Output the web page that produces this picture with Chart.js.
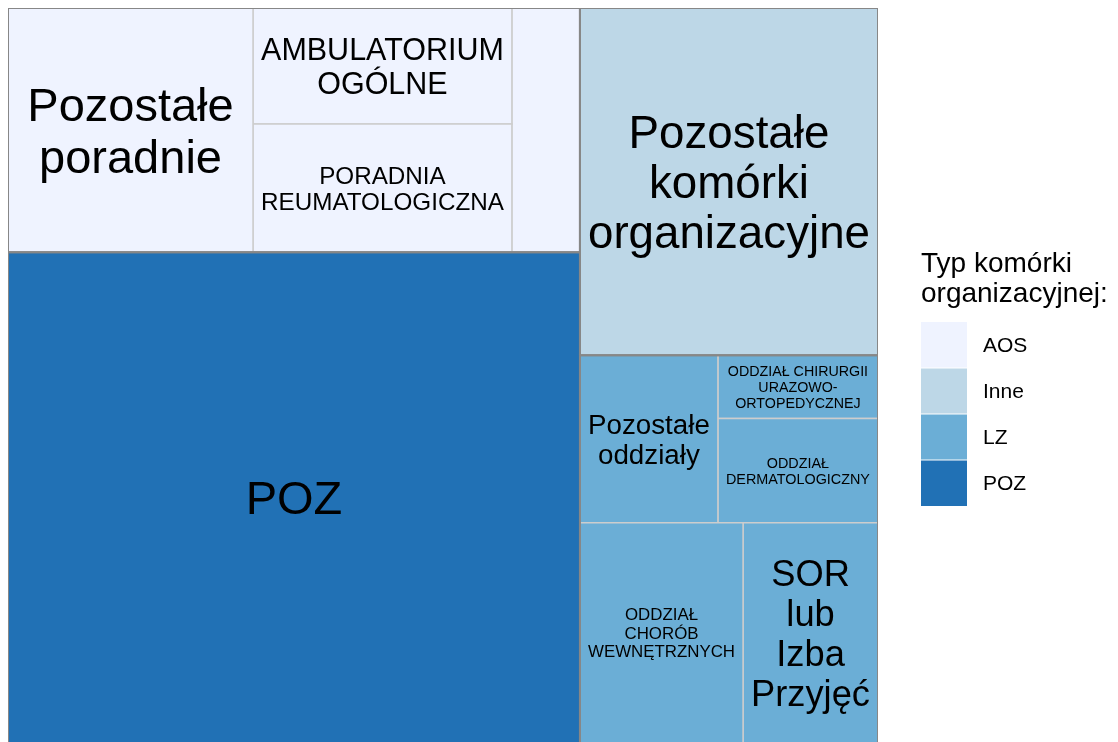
<!DOCTYPE html>
<html>
<head>
<meta charset="utf-8">
<script src="https://cdn.jsdelivr.net/npm/chart.js@4.4.0/dist/chart.umd.min.js"></script>
<style>
  html, body { margin: 0; padding: 0; background: #fff; overflow: hidden; }
</style>
</head>
<body>
<canvas id="treemap" width="1118" height="744"></canvas>
<script>
// Typ komórki organizacyjnej
var groups = ['AOS', 'Inne', 'LZ', 'POZ'];
var groupColors = ['#eff3ff', '#bdd7e7', '#6baed6', '#2171b5'];

// cells of the treemap (share of total, %)
var cellNames = [
  'POZ',
  'Pozostałe komórki organizacyjne',
  'Pozostałe poradnie',
  'PORADNIA REUMATOLOGICZNA',
  'AMBULATORIUM OGÓLNE',
  '', // small AOS cell, label not shown
  'ODDZIAŁ CHORÓB WEWNĘTRZNYCH',
  'SOR lub Izba Przyjęć',
  'Pozostałe oddziały',
  'ODDZIAŁ DERMATOLOGICZNY',
  'ODDZIAŁ CHIRURGII URAZOWO-ORTOPEDYCZNEJ'
];
var cellGroups = ['POZ', 'Inne', 'AOS', 'AOS', 'AOS', 'AOS', 'LZ', 'LZ', 'LZ', 'LZ', 'LZ'];
var cellShares = [43.89, 16.19, 9.36, 5.19, 4.70, 2.60, 5.62, 4.65, 3.61, 2.61, 1.58];

var FONT = '"Liberation Sans", Arial, sans-serif';
var PAD = 8;
var MAX_SIZE = 47;
var LINE_H = 1.1;

// squarified layout in the unit square (y up, rows start bottom-left)
function worst(row, side) {
  var s = 0, mx = 0, mn = Infinity;
  row.forEach(function (a) { s += a; mx = Math.max(mx, a); mn = Math.min(mn, a); });
  return Math.max(side * side * mx / (s * s), (s * s) / (side * side * mn));
}

function squarify(areas, rect) {
  var out = [], i = 0;
  var r = { x: rect.x, y: rect.y, w: rect.w, h: rect.h };
  while (i < areas.length) {
    var side = Math.min(r.w, r.h), row = [areas[i]], j = i + 1;
    while (j < areas.length && worst(row.concat(areas[j]), side) <= worst(row, side)) {
      row.push(areas[j]);
      j++;
    }
    var s = row.reduce(function (a, b) { return a + b; }, 0);
    if (r.w >= r.h) {
      var cw = s / r.h, yy = r.y;
      row.forEach(function (a) { out.push({ x: r.x, y: yy, w: cw, h: a / cw }); yy += a / cw; });
      r.x += cw; r.w -= cw;
    } else {
      var rh = s / r.w, xx = r.x;
      row.forEach(function (a) { out.push({ x: xx, y: r.y, w: a / rh, h: rh }); xx += a / rh; });
      r.y += rh; r.h -= rh;
    }
    i = j;
  }
  return out;
}

var total = cellShares.reduce(function (a, b) { return a + b; }, 0);

var groupTotals = groups.map(function (g) {
  var s = 0;
  cellGroups.forEach(function (cg, i) { if (cg === g) s += cellShares[i]; });
  return s / total;
});
var groupOrder = groups.map(function (g, i) { return i; })
  .sort(function (a, b) { return groupTotals[b] - groupTotals[a]; });
var groupRects = [];
squarify(groupOrder.map(function (i) { return groupTotals[i]; }), { x: 0, y: 0, w: 1, h: 1 })
  .forEach(function (r, k) { groupRects[groupOrder[k]] = r; });

var cells = [];
groups.forEach(function (g, gi) {
  var idx = [];
  cellGroups.forEach(function (cg, i) { if (cg === g) idx.push(i); });
  idx.sort(function (a, b) { return cellShares[b] - cellShares[a]; });
  squarify(idx.map(function (i) { return cellShares[i] / total; }), groupRects[gi])
    .forEach(function (r, k) {
      cells.push({ name: cellNames[idx[k]], group: gi, rect: r });
    });
});

function outline(r) {
  return [
    { x: r.x, y: r.y }, { x: r.x + r.w, y: r.y }, { x: r.x + r.w, y: r.y + r.h },
    { x: r.x, y: r.y + r.h }, { x: r.x, y: r.y }
  ];
}

var datasets = [];
cells.forEach(function (c) {
  datasets.push({
    label: c.name,
    data: outline(c.rect),
    fill: 'shape',
    backgroundColor: groupColors[c.group],
    borderColor: '#cdcdcd',
    borderWidth: 1.5,
    borderJoinStyle: 'miter',
    pointRadius: 0,
    order: 1
  });
});
groups.forEach(function (g, gi) {
  datasets.push({
    label: g,
    data: outline(groupRects[gi]),
    fill: false,
    borderColor: '#878787',
    borderWidth: 2,
    borderJoinStyle: 'miter',
    pointRadius: 0,
    order: 0
  });
});

// pick line breaks giving the largest text that fits in the cell
function fitLabel(ctx, text, w, h) {
  var tokens = [], seps = [];
  text.split(' ').forEach(function (word) {
    word.split(/(?<=-)/).forEach(function (p, pi) {
      if (tokens.length) seps.push(pi === 0 ? ' ' : '');
      tokens.push(p);
    });
  });
  ctx.font = '100px ' + FONT;
  var best = null, n = tokens.length;
  for (var mask = 0; mask < (1 << (n - 1)); mask++) {
    var lines = [tokens[0]];
    for (var t = 1; t < n; t++) {
      if (mask & (1 << (t - 1))) lines.push(tokens[t]);
      else lines[lines.length - 1] += seps[t - 1] + tokens[t];
    }
    var mw = 0;
    lines.forEach(function (l) { mw = Math.max(mw, ctx.measureText(l.trim()).width / 100); });
    var size = Math.min(MAX_SIZE, w / mw, h / (lines.length * LINE_H));
    if (!best || size > best.size + 0.01) best = { lines: lines, size: size };
  }
  return best;
}

var cellLabels = {
  id: 'cellLabels',
  afterDatasetsDraw: function (chart) {
    var ctx = chart.ctx, xs = chart.scales.x, ys = chart.scales.y;
    cells.forEach(function (c) {
      if (!c.name) return;
      var left = xs.getPixelForValue(c.rect.x), right = xs.getPixelForValue(c.rect.x + c.rect.w);
      var top = ys.getPixelForValue(c.rect.y + c.rect.h), bottom = ys.getPixelForValue(c.rect.y);
      var fit = fitLabel(ctx, c.name, right - left - 2 * PAD, bottom - top - 2 * PAD);
      var cx = (left + right) / 2, cy = (top + bottom) / 2;
      ctx.save();
      ctx.font = fit.size + 'px ' + FONT;
      ctx.fillStyle = '#000';
      ctx.textAlign = 'center';
      ctx.textBaseline = 'alphabetic';
      var n = fit.lines.length;
      fit.lines.forEach(function (l, i) {
        var y = cy + 0.358 * fit.size + (i - (n - 1) / 2) * fit.size * LINE_H;
        ctx.fillText(l.trim(), cx, y);
      });
      ctx.restore();
    });
  }
};

var sideLegend = {
  id: 'sideLegend',
  afterDraw: function (chart) {
    var ctx = chart.ctx, x = chart.chartArea.right + 43;
    ctx.save();
    ctx.fillStyle = '#000';
    ctx.textAlign = 'left';
    ctx.textBaseline = 'alphabetic';
    ctx.font = '28px ' + FONT;
    ctx.fillText('Typ komórki', x, 272);
    ctx.fillText('organizacyjnej:', x, 302);
    ctx.font = '21px ' + FONT;
    groups.forEach(function (g, i) {
      var top = 322 + i * 46;
      ctx.fillStyle = groupColors[i];
      ctx.fillRect(x, top, 46, 46);
      ctx.fillStyle = '#000';
      ctx.fillText(g, x + 62, top + 30);
    });
    ctx.strokeStyle = '#ffffff';
    ctx.lineWidth = 1;
    for (var i = 1; i < groups.length; i++) {
      ctx.beginPath();
      ctx.moveTo(x, 322 + i * 46);
      ctx.lineTo(x + 46, 322 + i * 46);
      ctx.stroke();
    }
    ctx.restore();
  }
};

var treemapCtx = document.getElementById('treemap').getContext('2d');
var treemapChart = new Chart(treemapCtx, {
  type: 'line',
  data: { datasets: datasets },
  options: {
    responsive: false,
    animation: false,
    events: [],
    layout: { padding: { left: 8, top: 8, right: 240, bottom: 1 } },
    scales: {
      x: { type: 'linear', min: 0, max: 1, display: false },
      y: { type: 'linear', min: 0, max: 1, display: false }
    },
    elements: { line: { tension: 0 } },
    plugins: {
      legend: { display: false },
      tooltip: { enabled: false }
    }
  },
  plugins: [cellLabels, sideLegend]
});
</script>
</body>
</html>
